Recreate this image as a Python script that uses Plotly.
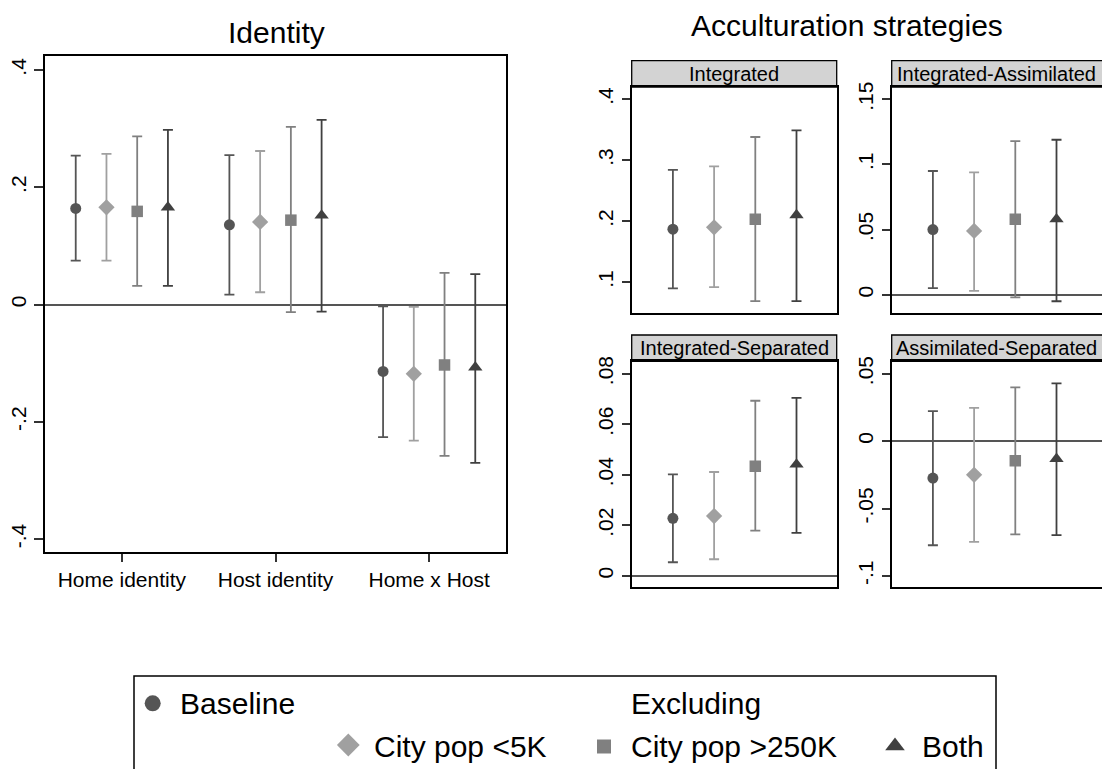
import plotly.graph_objects as go

# the page body has an 8px margin, so the figure is drawn 8px in from the
# window corner; sizes and helper conversions below take that into account
OFF = 8
W, H = 1110 - OFF, 769 - OFF

# --- data ---------------------------------------------------------------
categorias = ["Home identity", "Host identity", "Home x Host"]
series = ["Baseline", "City pop <5K", "City pop >250K", "Both"]

# Identity (left panel): point estimate, lower and upper CI per category
baseline_est = [0.164, 0.136, -0.114]
baseline_lo = [0.075, 0.017, -0.226]
baseline_hi = [0.254, 0.255, -0.003]

pop5k_est = [0.166, 0.141, -0.118]
pop5k_lo = [0.075, 0.021, -0.232]
pop5k_hi = [0.257, 0.262, -0.004]

pop250k_est = [0.159, 0.144, -0.103]
pop250k_lo = [0.032, -0.013, -0.258]
pop250k_hi = [0.287, 0.303, 0.054]

both_est = [0.166, 0.152, -0.107]
both_lo = [0.032, -0.012, -0.270]
both_hi = [0.298, 0.315, 0.052]

# Acculturation strategies: one value per series (Baseline, <5K, >250K, Both)
paineis = ["Integrated", "Integrated-Assimilated", "Integrated-Separated", "Assimilated-Separated"]

integrated_est = [0.187, 0.190, 0.203, 0.210]
integrated_lo = [0.090, 0.092, 0.069, 0.069]
integrated_hi = [0.284, 0.290, 0.338, 0.349]

int_assim_est = [0.050, 0.049, 0.058, 0.058]
int_assim_lo = [0.005, 0.003, -0.002, -0.005]
int_assim_hi = [0.095, 0.094, 0.118, 0.119]

int_sep_est = [0.0228, 0.0237, 0.0434, 0.0441]
int_sep_lo = [0.0054, 0.0066, 0.0179, 0.0170]
int_sep_hi = [0.0402, 0.0411, 0.0693, 0.0704]

assim_sep_est = [-0.0274, -0.0250, -0.0146, -0.0131]
assim_sep_lo = [-0.0772, -0.0747, -0.0692, -0.0697]
assim_sep_hi = [0.0223, 0.0247, 0.0398, 0.0428]

identity_ticks = [-0.4, -0.2, 0, 0.2, 0.4]
identity_ticklabels = ["-.4", "-.2", "0", ".2", ".4"]
panel_ticks = [
    ([0.1, 0.2, 0.3, 0.4], [".1", ".2", ".3", ".4"]),
    ([0, 0.05, 0.1, 0.15], ["0", ".05", ".1", ".15"]),
    ([0, 0.02, 0.04, 0.06, 0.08], ["0", ".02", ".04", ".06", ".08"]),
    ([-0.1, -0.05, 0, 0.05], ["-.1", "-.05", "0", ".05"]),
]

# --- estilo -------------------------------------------------------------
FONT = "Liberation Sans, Arial, sans-serif"
cores = ["#555555", "#a0a0a0", "#808080", "#404040"]
simbolos = ["circle", "diamond", "square", "triangle-up"]
tamanhos = [11, 12.5, 11.5, 12.5]
deslocamento = [-0.3, -0.1, 0.1, 0.3]


def px_x(p):
    return (p - OFF) / W


def px_y(p):
    return 1 - (p - OFF) / H


def ponto(x, est, lo, hi, i, xa, ya):
    return go.Scatter(
        x=x, y=est, mode="markers", xaxis=xa, yaxis=ya,
        marker=dict(symbol=simbolos[i], size=tamanhos[i], color=cores[i]),
        error_y=dict(
            type="data", symmetric=False,
            array=[h - e for h, e in zip(hi, est)],
            arrayminus=[e - l for e, l in zip(est, lo)],
            color=cores[i], thickness=1.8, width=5,
        ),
        showlegend=False, name=series[i],
    )


fig = go.Figure()

# painel Identity
identity = [
    (baseline_est, baseline_lo, baseline_hi),
    (pop5k_est, pop5k_lo, pop5k_hi),
    (pop250k_est, pop250k_lo, pop250k_hi),
    (both_est, both_lo, both_hi),
]
for i, (est, lo, hi) in enumerate(identity):
    xs = [k + 1 + deslocamento[i] for k in range(len(categorias))]
    fig.add_trace(ponto(xs, est, lo, hi, i, "x", "y"))

# paineis de aculturacao
estrategias = [
    (integrated_est, integrated_lo, integrated_hi),
    (int_assim_est, int_assim_lo, int_assim_hi),
    (int_sep_est, int_sep_lo, int_sep_hi),
    (assim_sep_est, assim_sep_lo, assim_sep_hi),
]
for p, (est, lo, hi) in enumerate(estrategias):
    n = p + 2
    for i in range(len(series)):
        fig.add_trace(ponto([i + 1], [est[i]], [lo[i]], [hi[i]], i, f"x{n}", f"y{n}"))

# marcadores da legenda (eixo auxiliar em pixels da janela)
leg_pos = [(152.7, 703.3), (348.3, 745), (604, 746.5), (895, 746)]
leg_tam = [16, 17.5, 14, 17]
for i in range(len(series)):
    fig.add_trace(go.Scatter(
        x=[leg_pos[i][0]], y=[leg_pos[i][1]], mode="markers", xaxis="x6", yaxis="y6",
        marker=dict(symbol=simbolos[i], size=leg_tam[i], color=cores[i]),
        showlegend=False, hoverinfo="skip",
    ))

eixo_base = dict(showgrid=False, linecolor="black", linewidth=2, automargin=False,
                 tickfont=dict(family=FONT, size=21, color="black"))

layout = dict(
    width=W, height=H, autosize=False,
    margin=dict(l=0, r=0, t=0, b=0),
    paper_bgcolor="white", plot_bgcolor="white",
    showlegend=False,
    font=dict(family=FONT, color="black"),
)

layout["xaxis"] = dict(
    eixo_base, domain=[px_x(45), px_x(506)], range=[0.5, 3.5],
    tickvals=[1, 2, 3], ticktext=categorias, ticks="outside", ticklen=8,
    tickwidth=1.5, tickcolor="#333", showline=True, mirror=True, zeroline=False,
)
layout["yaxis"] = dict(
    eixo_base, domain=[px_y(552), px_y(56)], range=[-0.422, 0.424],
    tickvals=identity_ticks, ticktext=identity_ticklabels, tickangle=-90,
    ticks="outside", ticklen=9, tickwidth=1.5, tickcolor="#333",
    showline=True, mirror=True, zeroline=True, zerolinecolor="#555", zerolinewidth=1.8,
)

# posicoes dos 4 paineis: (x0, x1, y_topo, y_base) em pixels da janela
caixas = [
    (631.7, 836.7, 87, 312.7),
    (891.7, 1110, 87, 312.7),
    (631.7, 836.7, 361.3, 587.3),
    (891.7, 1110, 361.3, 587.3),
]
ranges_y = [[0.050, 0.420], [-0.0138, 0.1595], [-0.0045, 0.0849], [-0.1084, 0.0592]]
espaco = 41.2  # pixels por unidade no eixo x

shapes = []
annotations = []
for p, (x0, x1, yt, yb) in enumerate(caixas):
    n = p + 2
    direita = x1 >= 1110
    layout[f"xaxis{n}"] = dict(
        eixo_base, domain=[px_x(x0), px_x(x1)], range=[0, (x1 - x0) / espaco],
        showticklabels=False, ticks="", showline=True, mirror=True, zeroline=False,
        anchor=f"y{n}",
    )
    layout[f"yaxis{n}"] = dict(
        eixo_base, domain=[px_y(yb), px_y(yt)], range=ranges_y[p],
        tickvals=panel_ticks[p][0], ticktext=panel_ticks[p][1], tickangle=-90,
        ticks="outside", ticklen=8, tickwidth=1.5, tickcolor="#333",
        showline=True, mirror=not direita, zeroline=True,
        zerolinecolor="#555", zerolinewidth=1.8, anchor=f"x{n}",
    )
    # faixa cinza com o nome do painel
    shapes.append(dict(
        type="rect", xref="paper", yref="paper",
        x0=px_x(x0), x1=px_x(x1 + 30 if direita else x1),
        y0=px_y(yt), y1=px_y(yt - 26.3),
        fillcolor="#d3d3d3", line=dict(color="black", width=1.3), layer="below",
    ))
    annotations.append(dict(
        text=paineis[p], xref="paper", yref="paper",
        x=px_x(x0 + 102.5 + (2 if direita else 0)), y=px_y(yt - 13.3),
        xanchor="center", yanchor="middle", showarrow=False,
        font=dict(family=FONT, size=20, color="black"),
    ))

layout["xaxis6"] = dict(domain=[0, 1], range=[OFF, OFF + W], visible=False, anchor="y6")
layout["yaxis6"] = dict(domain=[0, px_y(676)], range=[OFF + H, 676], visible=False, anchor="x6")

# titulos
annotations.append(dict(text="Identity", xref="paper", yref="paper", x=px_x(276), y=px_y(32),
                        xanchor="center", yanchor="middle", showarrow=False,
                        font=dict(family=FONT, size=30, color="black")))
annotations.append(dict(text="Acculturation strategies", xref="paper", yref="paper",
                        x=px_x(846.7), y=px_y(25), xanchor="center", yanchor="middle",
                        showarrow=False, font=dict(family=FONT, size=30, color="black")))

# caixa da legenda (cortada embaixo, como no original)
shapes.append(dict(type="rect", xref="paper", yref="paper",
                   x0=px_x(134), x1=px_x(996), y0=-0.1, y1=px_y(676),
                   line=dict(color="black", width=1.5)))
leg_textos = [("Baseline", 178, 703), ("Excluding", 629, 703),
              ("City pop <5K", 371.7, 746), ("City pop >250K", 629, 746), ("Both", 920, 746)]
for txt, lx, ly in leg_textos:
    annotations.append(dict(text=txt, xref="x6", yref="y6", x=lx, y=ly,
                            xanchor="left", yanchor="middle", showarrow=False,
                            font=dict(family=FONT, size=30, color="black")))

layout["shapes"] = shapes
layout["annotations"] = annotations
fig.update_layout(layout)

fig.write_html("out.html")
